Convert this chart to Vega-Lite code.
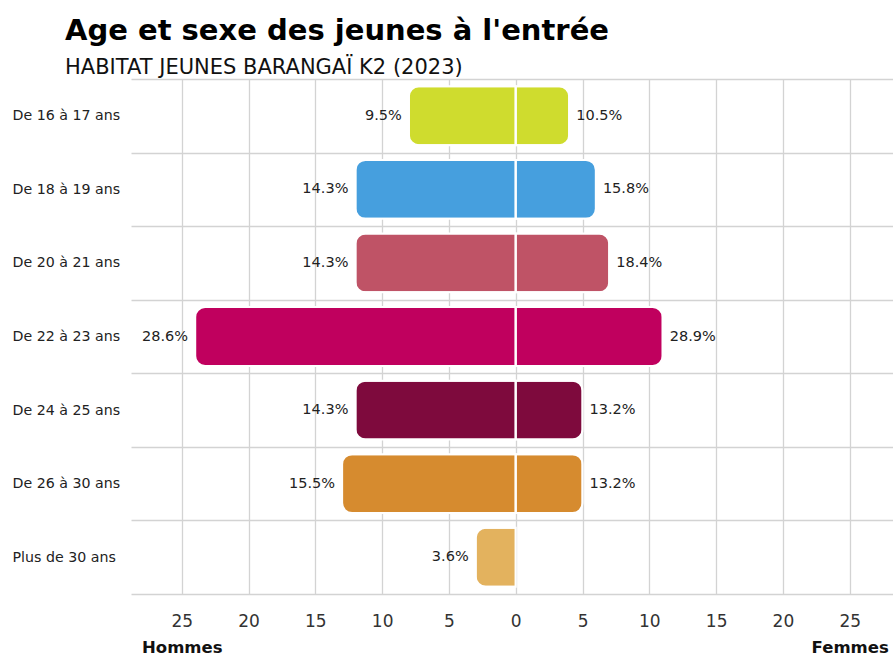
{
  "$schema": "https://vega.github.io/schema/vega-lite/v6.json",
  "width": 762,
  "height": 515,
  "autosize": {"type": "pad"},
  "padding": {"left": 12, "top": 17, "right": 0, "bottom": 0},
  "background": "white",
  "config": {"view": {"stroke": null}, "font": "DejaVu Sans"},
  "title": {
    "text": "Age et sexe des jeunes à l'entrée",
    "subtitle": "HABITAT JEUNES BARANGAÏ K2 (2023)",
    "anchor": "start",
    "frame": "bounds",
    "dx": 53,
    "font": "DejaVu Sans",
    "fontSize": 29,
    "fontWeight": "bold",
    "color": "#000000",
    "subtitleFont": "DejaVu Sans",
    "subtitleFontSize": 21,
    "subtitleColor": "#111111",
    "subtitlePadding": 11,
    "offset": -6
  },
  "data": {
    "values": [
      {"age": "De 16 à 17 ans", "sexe": "Hommes", "valeur": -8, "pct": "9.5%"},
      {"age": "De 18 à 19 ans", "sexe": "Hommes", "valeur": -12, "pct": "14.3%"},
      {"age": "De 20 à 21 ans", "sexe": "Hommes", "valeur": -12, "pct": "14.3%"},
      {"age": "De 22 à 23 ans", "sexe": "Hommes", "valeur": -24, "pct": "28.6%"},
      {"age": "De 24 à 25 ans", "sexe": "Hommes", "valeur": -12, "pct": "14.3%"},
      {"age": "De 26 à 30 ans", "sexe": "Hommes", "valeur": -13, "pct": "15.5%"},
      {"age": "Plus de 30 ans", "sexe": "Hommes", "valeur": -3, "pct": "3.6%"},
      {"age": "De 16 à 17 ans", "sexe": "Femmes", "valeur": 4, "pct": "10.5%"},
      {"age": "De 18 à 19 ans", "sexe": "Femmes", "valeur": 6, "pct": "15.8%"},
      {"age": "De 20 à 21 ans", "sexe": "Femmes", "valeur": 7, "pct": "18.4%"},
      {"age": "De 22 à 23 ans", "sexe": "Femmes", "valeur": 11, "pct": "28.9%"},
      {"age": "De 24 à 25 ans", "sexe": "Femmes", "valeur": 5, "pct": "13.2%"},
      {"age": "De 26 à 30 ans", "sexe": "Femmes", "valeur": 5, "pct": "13.2%"}
    ]
  },
  "encoding": {
    "y": {
      "field": "age",
      "type": "nominal",
      "sort": ["De 16 à 17 ans", "De 18 à 19 ans", "De 20 à 21 ans", "De 22 à 23 ans", "De 24 à 25 ans", "De 26 à 30 ans", "Plus de 30 ans"],
      "scale": {"paddingInner": 0, "paddingOuter": 0},
      "axis": {
        "title": null,
        "domain": false,
        "ticks": false,
        "grid": true,
        "tickBand": "extent",
        "gridColor": "#d3d3d3",
        "gridWidth": 1.3,
        "labelAlign": "left",
        "labelPadding": 119,
        "labelFont": "DejaVu Sans",
        "labelFontSize": 14.2,
        "labelColor": "#222222",
        "labelLimit": 200
      }
    },
    "color": {
      "field": "age",
      "type": "nominal",
      "legend": null,
      "scale": {
        "domain": ["De 16 à 17 ans", "De 18 à 19 ans", "De 20 à 21 ans", "De 22 à 23 ans", "De 24 à 25 ans", "De 26 à 30 ans", "Plus de 30 ans"],
        "range": ["#cfdc2e", "#469fde", "#bf5366", "#c0005e", "#7e0a3d", "#d68b2f", "#e3b25e"]
      }
    }
  },
  "layer": [
    {
      "transform": [{"filter": "datum.sexe === 'Hommes'"}],
      "mark": {
        "type": "bar",
        "height": {"band": 0.8},
        "stroke": "white",
        "strokeWidth": 2,
        "cornerRadiusTopLeft": 10,
        "cornerRadiusBottomLeft": 10
      },
      "encoding": {
        "x": {
          "field": "valeur",
          "type": "quantitative",
          "scale": {"domain": [-28.8, 28.24], "nice": false, "zero": false},
          "axis": {
            "orient": "bottom",
            "title": null,
            "values": [-25, -20, -15, -10, -5, 0, 5, 10, 15, 20, 25],
            "labelExpr": "abs(datum.value)",
            "grid": true,
            "gridColor": "#d3d3d3",
            "gridWidth": 1.3,
            "domain": false,
            "ticks": false,
            "labelFont": "DejaVu Sans",
            "labelFontSize": 17,
            "labelColor": "#333333",
            "labelPadding": 19
          }
        }
      }
    },
    {
      "transform": [{"filter": "datum.sexe === 'Femmes'"}],
      "mark": {
        "type": "bar",
        "height": {"band": 0.8},
        "stroke": "white",
        "strokeWidth": 2,
        "cornerRadiusTopRight": 10,
        "cornerRadiusBottomRight": 10
      },
      "encoding": {
        "x": {"field": "valeur", "type": "quantitative", "axis": null}
      }
    },
    {
      "mark": {
        "type": "text",
        "font": "DejaVu Sans",
        "fontSize": 14.5,
        "align": {"expr": "datum.valeur < 0 ? 'right' : 'left'"},
        "dx": {"expr": "datum.valeur < 0 ? -7 : 7"}
      },
      "encoding": {
        "x": {
          "field": "valeur",
          "type": "quantitative",
          "axis": {
            "orient": "bottom",
            "title": null,
            "values": [-25, 25],
            "labelExpr": "datum.value < 0 ? 'Hommes' : 'Femmes'",
            "labelFont": "DejaVu Sans",
            "labelFontWeight": "bold",
            "labelFontSize": 16.5,
            "labelColor": "#111111",
            "labelPadding": 45,
            "grid": false,
            "domain": false,
            "ticks": false
          }
        },
        "text": {"field": "pct"},
        "color": {"value": "#222222"}
      }
    }
  ],
  "resolve": {"axis": {"x": "independent"}}
}
